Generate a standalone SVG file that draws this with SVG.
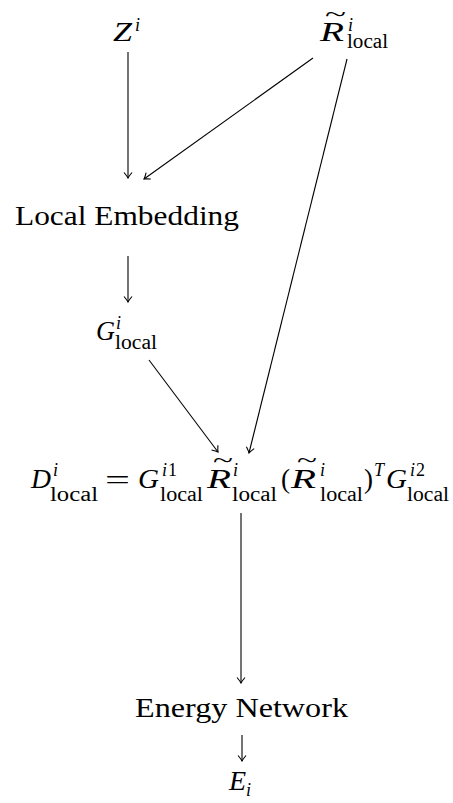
<svg xmlns="http://www.w3.org/2000/svg" width="453" height="803" viewBox="0 0 453 803">
<defs>
<style>
text{font-family:"Liberation Serif","DejaVu Serif",serif;fill:#000}
.m{font-style:italic;font-size:28px}
.up{font-size:27px}
.sup{font-style:italic;font-size:18px}
.supu{font-size:18px}
.sub{font-size:20px}
.lbl{font-size:27px}
.til{font-size:20px}
.edge{stroke:#000;stroke-width:1.1;fill:none}
</style>
<marker id="arr" markerUnits="userSpaceOnUse" markerWidth="14" markerHeight="14" refX="0" refY="0" viewBox="-8 -7 10 14" orient="auto">
<path d="M-5.5,-4 Q-2,-1 0,0 Q-2,1 -5.5,4" stroke="#000" stroke-width="1.1" fill="none"/>
</marker>
</defs>
<rect width="453" height="803" fill="#fff"/>
<g id="connectors">
<line class="edge" x1="128" y1="52" x2="128" y2="178" marker-end="url(#arr)"/>
<line class="edge" x1="313" y1="58" x2="144" y2="179" marker-end="url(#arr)"/>
<line class="edge" x1="347" y1="59" x2="249" y2="453" marker-end="url(#arr)"/>
<line class="edge" x1="128" y1="256" x2="128" y2="302" marker-end="url(#arr)"/>
<line class="edge" x1="149" y1="360" x2="218" y2="452" marker-end="url(#arr)"/>
<line class="edge" x1="241" y1="513" x2="241" y2="683" marker-end="url(#arr)"/>
<line class="edge" x1="242" y1="735" x2="242" y2="761" marker-end="url(#arr)"/>
</g>
<g id="node-z">
<text class="m" x="113" y="41" textLength="19" lengthAdjust="spacingAndGlyphs">Z</text>
<text class="sup" x="135" y="31">i</text>
</g>
<g id="node-r">
<text class="til" x="325" y="21" textLength="21" lengthAdjust="spacingAndGlyphs">~</text>
<text class="m" x="320" y="41" textLength="24" lengthAdjust="spacingAndGlyphs">R</text>
<text class="sup" x="348" y="31">i</text>
<text class="sub" x="347" y="48" textLength="41" lengthAdjust="spacingAndGlyphs">local</text>
</g>
<g id="node-embed">
<text class="lbl" x="15" y="225" textLength="224" lengthAdjust="spacingAndGlyphs">Local Embedding</text>
</g>
<g id="node-g">
<text class="m" x="96" y="340" textLength="19" lengthAdjust="spacingAndGlyphs">G</text>
<text class="sup" x="116" y="329">i</text>
<text class="sub" x="115" y="349" textLength="42" lengthAdjust="spacingAndGlyphs">local</text>
</g>
<g id="node-d">
<text class="m" x="31" y="488" textLength="20" lengthAdjust="spacingAndGlyphs">D</text>
<text class="sup" x="53" y="476">i</text>
<text class="sub" x="50" y="501" textLength="48" lengthAdjust="spacingAndGlyphs">local</text>
<text class="up" x="105" y="489" textLength="25" lengthAdjust="spacingAndGlyphs">=</text>
<text class="m" x="138" y="488" textLength="21" lengthAdjust="spacingAndGlyphs">G</text>
<text class="sup" x="162" y="476">i</text>
<text class="supu" x="168" y="476">1</text>
<text class="sub" x="160" y="501" textLength="43" lengthAdjust="spacingAndGlyphs">local</text>
<text class="til" x="213" y="467" textLength="20" lengthAdjust="spacingAndGlyphs">~</text>
<text class="m" x="207" y="488" textLength="24" lengthAdjust="spacingAndGlyphs">R</text>
<text class="sup" x="233" y="476">i</text>
<text class="sub" x="232" y="501" textLength="45" lengthAdjust="spacingAndGlyphs">local</text>
<text class="up" x="281" y="488">(</text>
<text class="til" x="297" y="467" textLength="20" lengthAdjust="spacingAndGlyphs">~</text>
<text class="m" x="291" y="488" textLength="25" lengthAdjust="spacingAndGlyphs">R</text>
<text class="sup" x="320" y="476">i</text>
<text class="sub" x="320" y="501" textLength="43" lengthAdjust="spacingAndGlyphs">local</text>
<text class="up" x="364" y="488">)</text>
<text class="sup" x="374" y="476">T</text>
<text class="m" x="386" y="488" textLength="21" lengthAdjust="spacingAndGlyphs">G</text>
<text class="sup" x="410" y="476">i</text>
<text class="supu" x="416" y="476">2</text>
<text class="sub" x="407" y="501" textLength="42" lengthAdjust="spacingAndGlyphs">local</text>
</g>
<g id="node-energy">
<text class="lbl" x="135" y="717" textLength="213" lengthAdjust="spacingAndGlyphs">Energy Network</text>
</g>
<g id="node-e">
<text class="m" x="229" y="790">E</text>
<text class="sup" x="246" y="796">i</text>
</g>
</svg>
